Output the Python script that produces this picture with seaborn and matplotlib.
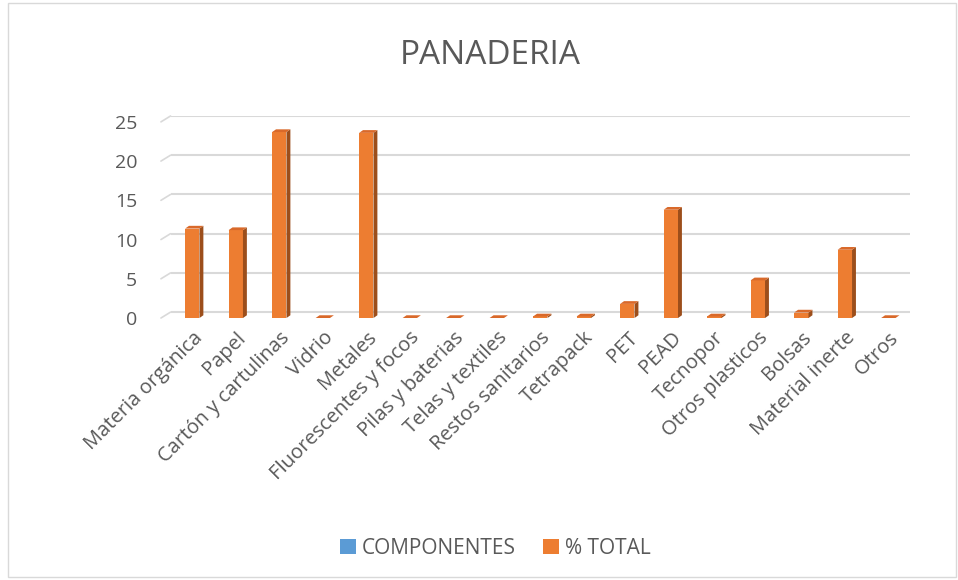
import matplotlib
matplotlib.use("Agg")
import matplotlib.pyplot as plt
import seaborn as sns
import pandas as pd
from matplotlib.patches import Polygon, Patch, Rectangle

categories = ["Materia orgánica", "Papel", "Cartón y cartulinas", "Vidrio", "Metales",
              "Fluorescentes y focos", "Pilas y baterias", "Telas y textiles",
              "Restos sanitarios", "Tetrapack", "PET", "PEAD", "Tecnopor",
              "Otros plasticos", "Bolsas", "Material inerte", "Otros"]
pct_total = [11.4, 11.2, 23.7, 0.0, 23.6, 0.0, 0.0, 0.0, 0.2, 0.2, 1.8, 13.8, 0.2,
             4.8, 0.7, 8.7, 0.0]
series_names = ["COMPONENTES", "% TOTAL"]
yticks = [0, 5, 10, 15, 20, 25]

BLUE = "#5B9BD5"
ORANGE = "#ED7D31"
SIDE = "#9C4E1B"
TOP = "#D9692A"
TXT = "#595959"
GRID = "#D9D9D9"

sns.set_theme(style="white")
plt.rcParams['font.family'] = ['Open Sans', 'DejaVu Sans']

fig = plt.figure(figsize=(9.58, 5.80), dpi=100)
fig.patches.append(Rectangle((0.008, 0.005), 0.99, 0.99, transform=fig.transFigure,
                             fill=False, edgecolor=GRID, linewidth=1.0))
ax = fig.add_axes([0.178, 0.4517, 0.772, 0.349])

df = pd.DataFrame({"cat": categories, "val": pct_total})
sns.barplot(data=df, x="cat", y="val", color=ORANGE, width=0.33, ax=ax,
            saturation=1, linewidth=0, zorder=3)

# pseudo-3D faces derived from the drawn bars
dx, dy = 0.09, 0.35
for p in list(ax.patches):
    x0, y0 = p.get_x(), p.get_y()
    w, h = p.get_width(), p.get_height()
    x1 = x0 + w
    side = Polygon([(x1, y0), (x1 + dx, y0 + dy), (x1 + dx, y0 + h + dy), (x1, y0 + h)],
                   closed=True, facecolor=SIDE, edgecolor="none", zorder=3)
    top = Polygon([(x0, y0 + h), (x0 + dx, y0 + h + dy), (x1 + dx, y0 + h + dy), (x1, y0 + h)],
                  closed=True, facecolor=TOP, edgecolor="none", zorder=3)
    ax.add_patch(side)
    ax.add_patch(top)

ax.set_xlim(-0.5, len(categories) - 0.5)
ax.set_ylim(0, 25.8)
ax.set_yticks(yticks)
# back-wall gridlines (offset for depth) with slanted floor edges on the left
depth = 0.75
for t in yticks:
    ax.axhline(t + depth, color=GRID, linewidth=1.5, zorder=0)
    ax.plot([-0.5 - 0.22, -0.5], [t, t + depth], color=GRID, linewidth=1.2,
            clip_on=False, zorder=0)
for s in ax.spines.values():
    s.set_visible(False)
ax.set_xlabel("")
ax.set_ylabel("")
ax.tick_params(axis="y", labelsize=14, labelcolor=TXT, length=0, pad=24)
ax.set_xticks(range(len(categories)))
ax.set_xticklabels(categories, rotation=45, ha="right", rotation_mode="anchor",
                   fontsize=14.5, color=TXT)
ax.tick_params(axis="x", length=0, pad=7)

fig.text(0.512, 0.905, "PANADERIA", ha="center", va="center", fontsize=24, color=TXT)

handles = [Patch(facecolor=BLUE, edgecolor="none"), Patch(facecolor=ORANGE, edgecolor="none")]
fig.legend(handles, series_names, loc="center", bbox_to_anchor=(0.517, 0.055), ncol=2,
           frameon=False, fontsize=15, labelcolor=TXT, handlelength=0.75, handleheight=0.75,
           handletextpad=0.3, columnspacing=1.3)

fig.savefig("out.png", dpi=100, facecolor="white")
